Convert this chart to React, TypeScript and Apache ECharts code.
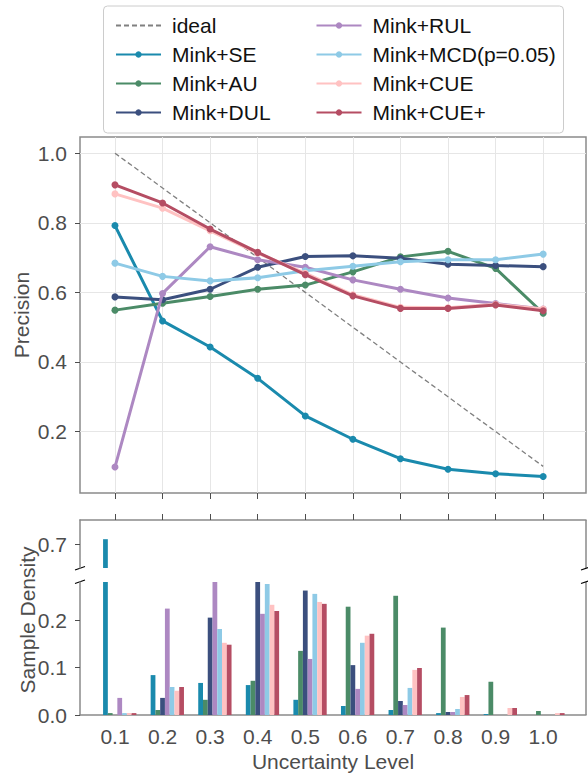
import React, { useEffect, useRef } from "react";
import * as echarts from "echarts";

const LEVELS = [0.1, 0.2, 0.3, 0.4, 0.5, 0.6, 0.7, 0.8, 0.9, 1.0];
const IDEAL = [1.0, 0.9, 0.8, 0.7, 0.6, 0.5, 0.4, 0.3, 0.2, 0.1];

const NAMES = ["Mink+SE", "Mink+AU", "Mink+DUL", "Mink+RUL", "Mink+MCD(p=0.05)", "Mink+CUE", "Mink+CUE+"];
const COLORS = ["#1a8aad", "#4b8b67", "#3b4f7e", "#ad88c2", "#8ecae6", "#ffc2c2", "#b54d63"];

const SE_P = [0.792, 0.518, 0.443, 0.353, 0.245, 0.178, 0.122, 0.092, 0.079, 0.071];
const AU_P = [0.549, 0.569, 0.588, 0.609, 0.621, 0.659, 0.702, 0.718, 0.669, 0.540];
const DUL_P = [0.587, 0.579, 0.609, 0.672, 0.703, 0.705, 0.698, 0.681, 0.677, 0.674];
const RUL_P = [0.098, 0.597, 0.731, 0.694, 0.672, 0.636, 0.609, 0.584, 0.568, 0.552];
const MCD_P = [0.684, 0.646, 0.633, 0.642, 0.662, 0.675, 0.688, 0.694, 0.694, 0.710];
const CUE_P = [0.883, 0.842, 0.777, 0.713, 0.655, 0.593, 0.557, 0.556, 0.566, 0.552];
const CUEP_P = [0.909, 0.857, 0.782, 0.715, 0.651, 0.590, 0.554, 0.554, 0.564, 0.547];

const SE_D = [0.71, 0.084, 0.0675, 0.063, 0.032, 0.019, 0.0105, 0.004, 0.002, 0];
const AU_D = [0.004, 0.0105, 0.032, 0.072, 0.135, 0.228, 0.251, 0.184, 0.07, 0.0084];
const DUL_D = [0, 0.036, 0.205, 0.3, 0.262, 0.105, 0.0295, 0.0063, 0, 0];
const RUL_D = [0.036, 0.224, 0.3, 0.213, 0.118, 0.055, 0.021, 0.0063, 0, 0];
const MCD_D = [0.004, 0.059, 0.181, 0.276, 0.255, 0.152, 0.057, 0.0126, 0, 0];
const CUE_D = [0.004, 0.051, 0.152, 0.232, 0.238, 0.167, 0.095, 0.038, 0.0148, 0.004];
const CUEP_D = [0.004, 0.059, 0.148, 0.219, 0.234, 0.171, 0.099, 0.042, 0.0148, 0.004];

const PRECISION = [SE_P, AU_P, DUL_P, RUL_P, MCD_P, CUE_P, CUEP_P];
const DENSITY = [SE_D, AU_D, DUL_D, RUL_D, MCD_D, CUE_D, CUEP_D];
const BAR_OFFSETS = [-0.02, -0.01, 0, 0.01, 0.02, 0.03, 0.04];

const PREC_TICKS = [0.2, 0.4, 0.6, 0.8, 1.0];
const DENS_LOW_TICKS = [0, 0.1, 0.2];
const DENS_HIGH_TICKS = [0.7];

const FONT = "'Liberation Sans', Arial, sans-serif";
const TICK_COLOR = "#4d4d4d";
const SPINE = "#8a8a8a";
const FS = 21;

export default function App() {
  const ref = useRef<HTMLDivElement>(null);
  useEffect(() => {
    if (!ref.current) return;
    const chart = echarts.init(ref.current, null, { renderer: "svg" });
    const XMIN = 0.0265;
    const XMAX = 1.09;
    const fmt = (v: number) => v.toFixed(1);
    const labelStyle = { color: TICK_COLOR, fontSize: FS, fontFamily: FONT };

    const lineSeries: any[] = [
      {
        name: "ideal",
        type: "line",
        xAxisIndex: 0,
        yAxisIndex: 0,
        data: LEVELS.map((x, i) => [x, IDEAL[i]]),
        symbol: "none",
        lineStyle: { color: "#808080", width: 1.3, type: [5, 3] },
        itemStyle: { color: "#808080" },
        z: 2,
      },
      ...NAMES.map((n, k) => ({
        name: n,
        type: "line",
        xAxisIndex: 0,
        yAxisIndex: 0,
        data: LEVELS.map((x, i) => [x, PRECISION[k][i]]),
        symbol: "circle",
        symbolSize: 7,
        lineStyle: { color: COLORS[k], width: 3 },
        itemStyle: { color: COLORS[k] },
        z: 3 + k,
      })),
    ];

    const barSeries: any[] = [];
    [1, 2].forEach((g) => {
      NAMES.forEach((n, k) => {
        barSeries.push({
          name: n + " density " + g,
          type: "bar",
          xAxisIndex: g,
          yAxisIndex: g,
          data: LEVELS.map((x, i) => [+(x + BAR_OFFSETS[k]).toFixed(4), DENSITY[k][i]]),
          barWidth: 4.76,
          barGap: "-100%",
          itemStyle: { color: COLORS[k] },
          clip: true,
        });
      });
    });

    const legendCommon = {
      orient: "vertical",
      top: 10,
      itemWidth: 45,
      itemHeight: 8,
      itemGap: 8,
      textStyle: { fontSize: FS, fontFamily: FONT, color: "#111", padding: [0, 0, 0, 6], lineHeight: 21 },
      selectedMode: false,
    };

    chart.setOption({
      animation: false,
      textStyle: { fontFamily: FONT },
      legend: [
        {
          ...legendCommon,
          left: 110,
          data: [{ name: "ideal", itemStyle: { opacity: 0 } }, NAMES[0], NAMES[1], NAMES[2]],
        },
        { ...legendCommon, left: 310.5, data: [NAMES[3], NAMES[4], NAMES[5], NAMES[6]] },
      ],
      grid: [
        { left: 80, top: 137, width: 506, height: 356, show: true, borderColor: SPINE, borderWidth: 1.5, backgroundColor: "transparent" },
        { left: 80, top: 520, width: 506, height: 48 },
        { left: 80, top: 582, width: 506, height: 133 },
      ],
      xAxis: [
        {
          gridIndex: 0,
          type: "value",
          min: XMIN,
          max: XMAX,
          axisLine: { show: false },
          axisTick: { show: true, length: 6, customValues: LEVELS, lineStyle: { color: TICK_COLOR, width: 1 } },
          axisLabel: { show: false, customValues: LEVELS },
          splitLine: { show: true, lineStyle: { color: "#e6e6e6", width: 1 } },
        },
        {
          gridIndex: 1,
          type: "value",
          position: "top",
          min: XMIN,
          max: XMAX,
          axisLine: { show: true, onZero: false, lineStyle: { color: SPINE, width: 1.5 } },
          axisTick: { show: true, length: 6, customValues: LEVELS, lineStyle: { color: TICK_COLOR, width: 1 } },
          axisLabel: { show: false, customValues: LEVELS },
          splitLine: { show: false },
        },
        {
          gridIndex: 2,
          type: "value",
          min: XMIN,
          max: XMAX,
          axisLine: { show: true, onZero: false, lineStyle: { color: SPINE, width: 1.5 } },
          axisTick: { show: false, customValues: LEVELS },
          axisLabel: { show: true, customValues: LEVELS, formatter: fmt, margin: 11, ...labelStyle },
          splitLine: { show: false },
        },
      ],
      yAxis: [
        {
          gridIndex: 0,
          type: "value",
          min: 0.0235,
          max: 1.0465,
          axisLine: { show: false },
          axisTick: { show: true, length: 5, customValues: PREC_TICKS, lineStyle: { color: TICK_COLOR, width: 1 } },
          axisLabel: { show: true, customValues: PREC_TICKS, formatter: fmt, margin: 13, ...labelStyle },
          splitLine: { show: true, lineStyle: { color: "#e6e6e6", width: 1 } },
        },
        {
          gridIndex: 1,
          type: "value",
          min: 0.65,
          max: 0.75,
          axisLine: { show: true, onZero: false, lineStyle: { color: SPINE, width: 1.5 } },
          axisTick: { show: true, length: 5, customValues: DENS_HIGH_TICKS, lineStyle: { color: TICK_COLOR, width: 1 } },
          axisLabel: { show: true, customValues: DENS_HIGH_TICKS, formatter: fmt, margin: 13, ...labelStyle },
          splitLine: { show: false },
        },
        {
          gridIndex: 2,
          type: "value",
          min: 0,
          max: 0.28,
          axisLine: { show: true, onZero: false, lineStyle: { color: SPINE, width: 1.5 } },
          axisTick: { show: true, length: 5, customValues: DENS_LOW_TICKS, lineStyle: { color: TICK_COLOR, width: 1 } },
          axisLabel: { show: true, customValues: DENS_LOW_TICKS, formatter: fmt, margin: 13, ...labelStyle },
          splitLine: { show: false },
        },
      ],
      graphic: [
        {
          type: "rect",
          z: -1,
          silent: true,
          shape: { x: 103.5, y: 6, width: 460, height: 127, r: 4 },
          style: { fill: "#fff", stroke: "#cccccc", lineWidth: 1 },
        },
        { type: "line", shape: { x1: 586, y1: 520, x2: 586, y2: 568 }, style: { stroke: SPINE, lineWidth: 1.5 } },
        { type: "line", shape: { x1: 586, y1: 582, x2: 586, y2: 715 }, style: { stroke: SPINE, lineWidth: 1.5 } },
        { type: "line", shape: { x1: 75, y1: 570, x2: 85, y2: 566.5 }, style: { stroke: "#000", lineWidth: 1.2 } },
        { type: "line", shape: { x1: 75, y1: 583.5, x2: 85, y2: 580 }, style: { stroke: "#000", lineWidth: 1.2 } },
        { type: "line", shape: { x1: 581, y1: 570, x2: 591, y2: 566.5 }, style: { stroke: "#000", lineWidth: 1.2 } },
        { type: "line", shape: { x1: 581, y1: 583.5, x2: 591, y2: 580 }, style: { stroke: "#000", lineWidth: 1.2 } },
        {
          type: "text",
          x: 21,
          y: 315,
          rotation: Math.PI / 2,
          style: { text: "Precision", fontSize: FS, fontFamily: FONT, fill: TICK_COLOR, align: "center", verticalAlign: "middle" },
        },
        {
          type: "text",
          x: 27,
          y: 620,
          rotation: Math.PI / 2,
          style: { text: "Sample Density", fontSize: FS, fontFamily: FONT, fill: TICK_COLOR, align: "center", verticalAlign: "middle" },
        },
        {
          type: "text",
          x: 333,
          y: 761,
          style: { text: "Uncertainty Level", fontSize: FS, fontFamily: FONT, fill: TICK_COLOR, align: "center", verticalAlign: "middle" },
        },
      ],
      series: [...lineSeries, ...barSeries],
    });
    return () => chart.dispose();
  }, []);
  return <div ref={ref} style={{ position: "fixed", left: 0, top: 0, width: 588, height: 773, background: "#fff" }} />;
}
